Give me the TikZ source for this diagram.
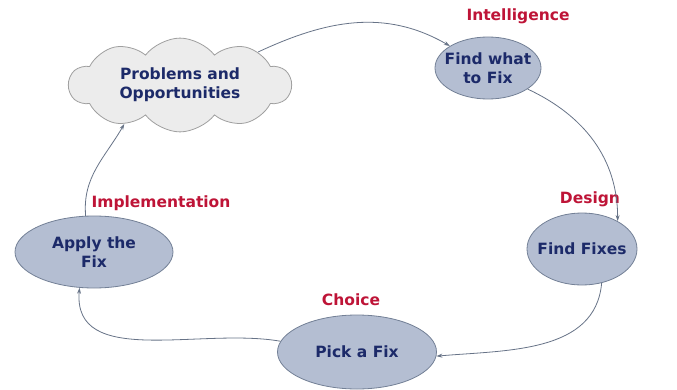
\documentclass[tikz,border=0pt]{standalone}
\definecolor{navy1}{RGB}{28, 42, 105}
\definecolor{red1}{RGB}{190, 20, 55}
\definecolor{slate1}{RGB}{180, 190, 210}
\definecolor{edge1}{RGB}{115, 128, 150}
\usepackage{fontspec}
\setmainfont{DejaVu Sans}
\usepackage{tikz}
\usetikzlibrary{shapes, arrows.meta, positioning}

\tikzset{
  stage/.style={ellipse, draw=edge1, fill=slate1, line width=0.8pt, text=navy1, font=\bfseries\fontsize{15.5}{19}\selectfont, align=center, inner xsep=-7pt, inner ysep=0pt},
  phase/.style={text=red1, font=\bfseries\fontsize{15.5}{19}\selectfont},
  flow/.style={draw=edge1!90!black, line width=0.8pt, -{Stealth[length=6pt, width=4pt]}}
}

\begin{document}
\begin{tikzpicture}[x=1pt, y=1pt]
  \useasboundingbox (0,0) rectangle (677,389);

  % the cycle
  \node[cloud, cloud puffs=10, cloud puff arc=105, aspect=2.4, draw=gray!75, fill=gray!15, line width=0.8pt,
        minimum width=222pt, minimum height=92pt, inner sep=0pt, text=navy1,
        font=\bfseries\fontsize{15.5}{19}\selectfont, align=center] (problems) at (180,304) {Problems and\\Opportunities};
  \node[stage, minimum width=106pt, minimum height=62pt] (intel) at (488,321) {Find what\\to Fix};
  \node[stage, minimum width=110pt, minimum height=72pt] (design) at (582,140) {Find Fixes};
  \node[stage, minimum width=159pt, minimum height=74pt] (choice) at (357,37) {Pick a Fix};
  \node[stage, minimum width=158pt, minimum height=72pt] (impl) at (94,137) {Apply the\\Fix};

  % phase names
  \node[phase] (intellabel) at (518,373) {Intelligence};
  \node[phase] (designlabel) at (590,190) {Design};
  \node[phase] (choicelabel) at (351,89) {Choice};
  \node[phase] (impllabel) at (161,186) {Implementation};

  % arrows
  \draw[flow] (problems.north east) to[out=25, in=150] (intel.150);
  \draw[flow] (intel.-28) to[out=-25, in=90] (design.38);
  \draw[flow] (design.-60) to[out=-95, in=5] (choice.-3);
  \draw[flow] (choice.172) to[out=170, in=-95] (impl.-112);
  \draw[flow] (impl.103) to[out=95, in=-120] (problems.-145);
\end{tikzpicture}
\end{document}
